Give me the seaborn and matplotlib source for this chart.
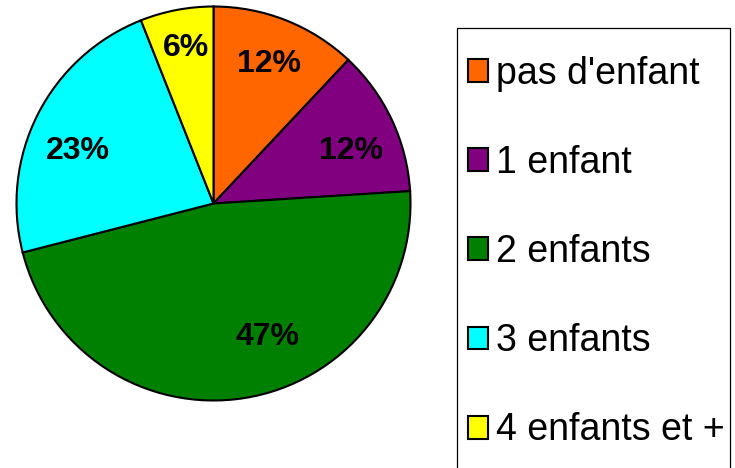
import matplotlib
matplotlib.use("Agg")
import matplotlib.pyplot as plt
from matplotlib.patches import Rectangle
import numpy as np
import seaborn as sns

# nombre d'enfants par foyer (pourcentages)
categories = ["pas d'enfant", "1 enfant", "2 enfants", "3 enfants", "4 enfants et +"]
values = [12, 12, 47, 23, 6]
pct_labels = ["12%", "12%", "47%", "23%", "6%"]
colors = ["#FF6600", "#800080", "#008000", "#00FFFF", "#FFFF00"]

# petits décalages des étiquettes (en points), comme le placement d'Excel
label_nudge = [(0, 0), (1.5, -8), (22, 10), (-1.5, -11), (0.5, 6)]

sns.set_style("white")
plt.rcParams['font.family'] = ['Liberation Sans', 'DejaVu Sans']

fig = plt.figure(figsize=(7.35, 4.68), dpi=100)
ax = fig.add_axes([16.5 / 735, 1 - 400.5 / 468, 394 / 735, 394 / 468])

wedges, _ = ax.pie(values, colors=colors, startangle=90, counterclock=False,
                   radius=1, wedgeprops=dict(edgecolor='black', linewidth=1.5))
for w, txt, nudge in zip(wedges, pct_labels, label_nudge):
    ang = np.deg2rad((w.theta1 + w.theta2) / 2)
    ax.annotate(txt, (0.76 * np.cos(ang), 0.76 * np.sin(ang)),
                xytext=nudge, textcoords='offset points',
                ha='center', va='center', fontsize=23, fontweight='bold',
                color='black')
ax.set_xlim(-1.0, 1.0)
ax.set_ylim(-1.0, 1.0)
ax.set_aspect('equal')
ax.axis('off')

# cadre de la légende (coupé en bas comme sur l'original)
fig.patches.append(Rectangle((457 / 735, -0.1), (730 - 457) / 735, 1.1 - 28 / 468,
                             transform=fig.transFigure, fill=False,
                             edgecolor='black', linewidth=0.9))

leg = fig.legend(wedges, categories, loc='upper left',
                 bbox_to_anchor=(467.5 / 735, 1 - 55.5 / 468), borderaxespad=0,
                 borderpad=0, fontsize=27, frameon=False, labelcolor='black',
                 handlelength=0.55, handleheight=0.55, handletextpad=0.2,
                 labelspacing=1.42)

fig.savefig("out.png", dpi=100)
